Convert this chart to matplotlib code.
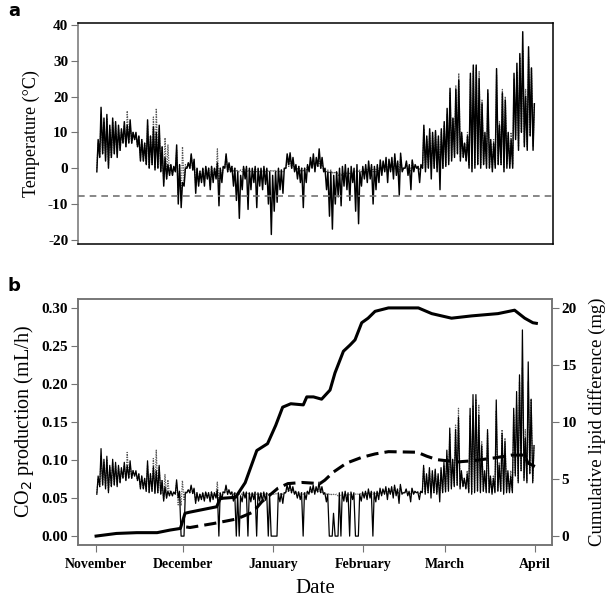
import numpy as np
import matplotlib
matplotlib.use("Agg")
import matplotlib.pyplot as plt

plt.rcParams['font.family'] = ['Liberation Serif', 'DejaVu Serif']
plt.rcParams['axes.unicode_minus'] = False

# days counted from 1 November; one low and one high per day
month_days = [0, 30, 61, 92, 120, 151]
month_names = ['November', 'December', 'January', 'February', 'March', 'April']

# temperature (C), solid trace
temp_hi = [8, 17, 14, 15, 12, 14, 13, 12, 11, 13, 12, 13.5, 10, 10, 9, 8, 7, 13.5, 9, 11.5, 10, 12, 6, 3, 1, 1, 0.5, 6.5, 1, -4,
           0, 1.5, 4, 2.5, 0, -1, 0, 0.5, 0, 0.5, 0, 1.5, 0, 0.5, 4, 1.5, 0.5, 0, -1, -2, 0.5, 0.5, 0, 0, 0.5, 0, 0, 0.5, 0, -1, -2,
           -1, 0, -0.5, 0, 4, 4.3, 3, 1, 0.5, 0, 0, 1, 3, 4, 3, 5.4, 3, 0, -1, -1, -2, -1, 0, 0.5, 1, 0, 0.5, 0, 1, -1, 0.5,
           1, 2, 1, 0.5, 1, 2.3, 2, 3, 2.5, 3, 4, 2, 4.2, 0, 2, 1, 2.3, 1, 0.5, 1, 12, 9, 11, 10, 10.5, 9, 11, 13,
           16.7, 22.3, 14, 22, 24.6, 10, 7, 9, 26.5, 28.8, 28.8, 25, 18, 10, 21.9, 8, 7, 27.8, 12, 21, 19, 10, 8, 26.5, 29.3, 32, 38.1, 20, 33.9, 28, 18]
temp_lo = [-1, 3, 4, 2, 0, 3, 4, 3, 5, 7, 6, 7, 7, 8, 6, 2, 2, 1, 0, 1, -0.5, 0, -1, -5, -3, -2, -2, -1, -10, -11,
           -5, 0, 0, -0.5, -7, -5, -4, -5, -3, -6, -4, -3, -10.5, -4, 0, -1, -1, -5, -9, -14, -6, -3, -11.5, -6, -4, -11, -5, -6, -4.5, -10, -18.5,
           -12, -9.5, -6, -7, 0, 1, 0, -1, -3, -4, -11, -4, -1, 0, -1, 0.5, 0, -1, -6, -13.4, -17, -10, -8, -10.5, -5, -6, -9, -4, -12, -15.5, -5,
           -3, -4, -3, -10, -6, -4, -2, -1, -4, -1, -3, -2, -7.5, -1, 0, -2, -6, -1, 0, -4, 0, -1, 0, -3, 0, -1, -6, 0,
           0.5, 1, 2, 3, 4, 2, 3, 2, 0, -1, 0, 1, 0, 1, 0, 0, -1, 0, 1, 1, -1, 0, 0, 0, 8, 5, 10, 6, 5, 9, 5]

# temperature (C), dotted trace
tdot_hi = [7, 15, 13, 14, 11, 13, 12, 11, 10, 12, 16, 12, 10, 9, 9, 8, 7, 12, 9, 14.3, 16.7, 11, 6, 8.5, 6.5, 1, 0.5, 5, 1, 6,
           1, 1.5, 3.5, 2, 0, -0.5, 0, 0.5, 0, 0.5, 0, 5.4, 0, 0.5, 3.5, 1, 0.5, 0, -0.5, -0.5, 0, 0, -0.5, -0.5, 0, -0.5, -0.5, 0, -0.5, -0.5, -0.5,
           -0.5, -0.5, -0.5, -0.5, 2, 3, 2, 0.5, 0.5, 0, 0, 0.5, 1, 1.5, 1.5, 2, 1, 0, -0.5, -0.5, -1, -1, -1.5, -1.5, -1, -1, -1, -1, -0.5, -0.5, -0.5,
           0, 0.5, 0.5, 0, 0.5, 1, 1.5, 2, 2, 2, 3, 1.5, 3, 0, 1.5, 0.5, 2, 0.5, 0.5, 0.5, 11, 8, 10, 9, 10, 8, 10, 12,
           15, 21, 14, 23, 26.5, 9, 7, 10, 25, 27, 28, 27, 19, 9, 21, 7, 8, 26, 13, 22, 20, 9, 10, 25, 27, 31, 33, 22, 31, 28, 18]
tdot_lo = [0, 3, 4, 3, 1, 3, 4, 4, 5, 7, 6, 7, 7, 8, 6, 3, 2, 1, 0, 1, 0, 0, -1, -4, -3, -2, -2, -1, -8, -9,
           -4, 0, 0, -0.5, -5, -4, -3, -4, -3, -5, -3, -2, -6, -3, 0, -1, -1, -1, -1, -1, -1, -1, -1, -1, -1, -1, -1, -1, -1, -1, -1,
           -1, -1, -1, -1, 0, 0.5, 0, -0.5, -0.5, -1, -1, -0.5, 0, 0, 0, 0.5, 0, -0.5, -1, -1.5, -1.5, -1.5, -2, -2, -1.5, -1.5, -1.5, -1.5, -1, -1, -1,
           -1, -1, -1, -1, -1, -1, -1, -0.5, -1, -0.5, -1, -0.5, -1, -0.5, 0, -0.5, -1, -0.5, 0, -0.5, 0, 0, 0, 0, 0, 0, 0, 0,
           1, 2, 3, 4, 4, 3, 3, 2, 1, 0, 1, 1, 1, 1, 1, 0, 0, 1, 1, 1, 0, 1, 1, 1, 9, 6, 10, 7, 6, 9, 6]

# CO2 production (mL/h), solid trace
co2_hi = [0.079, 0.115, 0.101, 0.105, 0.093, 0.101, 0.097, 0.093, 0.090, 0.097, 0.093, 0.099, 0.086, 0.086, 0.082, 0.079, 0.076, 0.099, 0.082, 0.091, 0.086, 0.093, 0.073, 0.065, 0.059, 0.059, 0.058, 0.074, 0.059, 0,
          0.057, 0.061, 0.067, 0.063, 0.057, 0.055, 0.057, 0.058, 0.057, 0.058, 0.057, 0.061, 0.057, 0.058, 0.067, 0.061, 0.058, 0.057, 0.055, 0.053, 0.058, 0.058, 0.057, 0.057, 0.058, 0.057, 0.057, 0.058, 0.057, 0.055, 0,
          0, 0.057, 0.056, 0.057, 0.067, 0.068, 0.065, 0.059, 0.058, 0.057, 0.057, 0.059, 0.065, 0.067, 0.065, 0.071, 0.065, 0.057, 0.055, 0, 0.03, 0, 0.057, 0.058, 0.059, 0.057, 0.058, 0.057, 0, 0.055, 0.058,
          0.059, 0.062, 0.059, 0.058, 0.059, 0.063, 0.062, 0.065, 0.063, 0.065, 0.067, 0.062, 0.068, 0.057, 0.062, 0.059, 0.063, 0.059, 0.058, 0.059, 0.093, 0.082, 0.090, 0.086, 0.088, 0.082, 0.090, 0.097,
          0.113, 0.142, 0.101, 0.140, 0.156, 0.086, 0.076, 0.082, 0.168, 0.186, 0.186, 0.159, 0.119, 0.086, 0.140, 0.079, 0.076, 0.179, 0.093, 0.135, 0.124, 0.086, 0.079, 0.168, 0.190, 0.212, 0.271, 0.129, 0.229, 0.180, 0.119]
co2_lo = [0.055, 0.065, 0.067, 0.062, 0.057, 0.065, 0.067, 0.065, 0.070, 0.076, 0.073, 0.076, 0.076, 0.079, 0.073, 0.062, 0.062, 0.059, 0.057, 0.059, 0.056, 0.057, 0.055, 0.046, 0.050, 0.053, 0.053, 0.055, 0.050, 0,
          0, 0.057, 0.057, 0.056, 0.043, 0.046, 0.048, 0.046, 0.050, 0.045, 0.048, 0.050, 0, 0.048, 0.057, 0.055, 0.055, 0.046, 0, 0, 0.045, 0.050, 0, 0.045, 0.048, 0, 0.046, 0.045, 0.047, 0, 0,
          0, 0, 0.045, 0.043, 0.057, 0.059, 0.057, 0.055, 0.050, 0.048, 0, 0.048, 0.055, 0.057, 0.055, 0.058, 0.057, 0.055, 0.045, 0, 0, 0, 0, 0, 0.046, 0.045, 0, 0.048, 0, 0, 0.046,
          0.050, 0.048, 0.050, 0, 0.045, 0.048, 0.053, 0.055, 0.048, 0.055, 0.050, 0.053, 0.043, 0.055, 0.057, 0.053, 0.045, 0.055, 0.057, 0.048, 0.057, 0.055, 0.057, 0.050, 0.057, 0.055, 0.045, 0.057,
          0.058, 0.059, 0.062, 0.065, 0.067, 0.062, 0.065, 0.062, 0.057, 0.055, 0.057, 0.059, 0.057, 0.059, 0.057, 0.057, 0.055, 0.057, 0.059, 0.059, 0.055, 0.057, 0.057, 0.057, 0.079, 0.070, 0.086, 0.073, 0.070, 0.082, 0.070]

# CO2 production (mL/h), dotted trace
cdot_hi = [0.076, 0.105, 0.097, 0.101, 0.090, 0.097, 0.093, 0.090, 0.086, 0.093, 0.110, 0.093, 0.086, 0.082, 0.082, 0.079, 0.076, 0.093, 0.082, 0.102, 0.113, 0.090, 0.073, 0.081, 0.074, 0.059, 0.058, 0.070, 0.059, 0.073,
           0.059, 0.061, 0.066, 0.062, 0.057, 0.056, 0.057, 0.058, 0.057, 0.058, 0.057, 0.071, 0.057, 0.058, 0.066, 0.059, 0.058, 0.057, 0.056, 0.056, 0.057, 0.057, 0.056, 0.056, 0.057, 0.056, 0.056, 0.057, 0.056, 0.056, 0.056,
           0.056, 0.056, 0.056, 0.056, 0.062, 0.065, 0.062, 0.058, 0.058, 0.057, 0.057, 0.058, 0.059, 0.061, 0.061, 0.062, 0.059, 0.057, 0.056, 0.056, 0.055, 0.055, 0.054, 0.054, 0.055, 0.055, 0.055, 0.055, 0.056, 0.056, 0.056,
           0.057, 0.058, 0.058, 0.057, 0.058, 0.059, 0.061, 0.062, 0.062, 0.062, 0.065, 0.061, 0.065, 0.057, 0.061, 0.058, 0.062, 0.058, 0.058, 0.058, 0.090, 0.079, 0.086, 0.082, 0.086, 0.079, 0.086, 0.093,
           0.105, 0.135, 0.101, 0.146, 0.168, 0.082, 0.076, 0.086, 0.159, 0.172, 0.180, 0.172, 0.124, 0.082, 0.135, 0.076, 0.079, 0.165, 0.097, 0.140, 0.129, 0.082, 0.086, 0.159, 0.172, 0.203, 0.221, 0.140, 0.203, 0.180, 0.119]
cdot_lo = [0.057, 0.065, 0.067, 0.065, 0.059, 0.065, 0.067, 0.067, 0.070, 0.076, 0.073, 0.076, 0.076, 0.079, 0.073, 0.065, 0.062, 0.059, 0.057, 0.059, 0.057, 0.057, 0.055, 0.048, 0.050, 0.053, 0.053, 0.055, 0.041, 0.040,
           0.048, 0.057, 0.057, 0.056, 0.046, 0.048, 0.050, 0.048, 0.050, 0.046, 0.050, 0.053, 0.045, 0.050, 0.057, 0.055, 0.055, 0.055, 0.055, 0.055, 0.055, 0.055, 0.055, 0.055, 0.055, 0.055, 0.055, 0.055, 0.055, 0.055, 0.055,
           0.055, 0.055, 0.055, 0.055, 0.057, 0.058, 0.057, 0.056, 0.056, 0.055, 0.055, 0.056, 0.057, 0.057, 0.057, 0.058, 0.057, 0.056, 0.055, 0.054, 0.054, 0.054, 0.053, 0.053, 0.054, 0.054, 0.054, 0.054, 0.055, 0.055, 0.055,
           0.055, 0.055, 0.055, 0.055, 0.055, 0.055, 0.055, 0.056, 0.055, 0.056, 0.055, 0.056, 0.055, 0.056, 0.057, 0.056, 0.055, 0.056, 0.057, 0.056, 0.057, 0.057, 0.057, 0.057, 0.057, 0.057, 0.057, 0.057,
           0.059, 0.062, 0.065, 0.067, 0.067, 0.065, 0.065, 0.062, 0.059, 0.057, 0.059, 0.059, 0.059, 0.059, 0.059, 0.057, 0.057, 0.059, 0.059, 0.059, 0.057, 0.059, 0.059, 0.059, 0.082, 0.073, 0.086, 0.076, 0.073, 0.082, 0.073]

# cumulative lipid difference (mg)
lipid_days = [0, 7, 14, 21, 25.5, 29, 30.6, 32.3, 41.5, 42.7, 48, 51.3, 55.3, 59, 61.8, 64.2, 67, 71.3, 72.5, 74.8, 77.6,
              80.5, 82.2, 85.1, 87.4, 89.1, 91.4, 93.6, 96, 100.6, 110.9, 115.5, 122.3, 129.2, 138.3, 144, 147.5, 150.3, 151.5]
lipid_vals = [0, 0.23, 0.3, 0.3, 0.53, 0.67, 2.0, 2.1, 2.57, 3.3, 3.4, 4.68, 7.5, 8.1, 9.7, 11.3, 11.6, 11.5, 12.2, 12.2, 12.0,
              12.8, 14.3, 16.2, 16.75, 17.2, 18.7, 19.1, 19.7, 20.0, 20.0, 19.5, 19.1, 19.3, 19.5, 19.8, 19.1, 18.7, 18.65]
dash_days = [31, 32.3, 40.4, 48.4, 54, 57, 62.6, 66, 70.9, 77, 78.7, 81.6, 86.2, 91.4, 96, 100.6, 110.5, 113.8, 117.3,
             124.3, 129.5, 137, 143, 147.5, 148.6, 151]
dash_vals = [0.8, 0.75, 1.1, 1.5, 2.1, 3.0, 4.2, 4.6, 4.7, 4.6, 4.9, 5.6, 6.4, 6.9, 7.2, 7.4, 7.35, 7.0, 6.7,
             6.5, 6.6, 6.85, 7.1, 7.1, 6.4, 6.1]

supercooling = -7.8


def zigzag(lo, hi):
    d = np.arange(len(lo))
    x = np.column_stack([d + 0.25, d + 0.7]).ravel()
    y = np.column_stack([lo, hi]).ravel()
    return x, y


fig = plt.figure(figsize=(6.1, 5.99), dpi=100)

# panel a
ax1 = fig.add_axes([0.128, 0.593, 0.779, 0.369])
ax1.plot(*zigzag(tdot_lo, tdot_hi), color='0.35', lw=0.9, ls=(0, (1, 1)))
ax1.plot(*zigzag(temp_lo, temp_hi), color='black', lw=1.05)
ax1.axhline(supercooling, color='0.45', lw=1.2, ls=(0, (4, 3)))
ax1.set_xlim(-6.2, 157.2)
ax1.set_ylim(-21.1, 40.6)
ax1.set_xticks([])
ax1.set_yticks(range(-20, 41, 10))
ax1.tick_params(axis='y', direction='out', length=5, color='0.45', labelsize=11, pad=2)
ax1.set_ylabel('Temperature (°C)', fontsize=13, labelpad=6)
for s in ax1.spines.values():
    s.set_linewidth(1.1)
ax1.spines['left'].set_color('0.45')

# panel b
ax2 = fig.add_axes([0.128, 0.090, 0.777, 0.411])
ax3 = ax2.twinx()
ax2.plot(*zigzag(cdot_lo, cdot_hi), color='0.35', lw=0.9, ls=(0, (1, 1)))
ax2.plot(*zigzag(co2_lo, co2_hi), color='black', lw=0.9)
ax3.plot(lipid_days, lipid_vals, color='black', lw=2.2)
ax3.plot(dash_days, dash_vals, color='black', lw=2.2, ls=(0, (4, 2)))
ax2.set_xlim(-6.2, 156.9)
ax2.set_ylim(-0.0118, 0.3118)
ax3.set_ylim(-0.79, 20.79)
ax2.set_yticks([0, 0.05, 0.10, 0.15, 0.20, 0.25, 0.30])
ax2.set_yticklabels(['0.00', '0.05', '0.10', '0.15', '0.20', '0.25', '0.30'])
ax3.set_yticks(range(0, 21, 5))
ax2.set_xticks(month_days)
ax2.set_xticklabels(month_names)
ax2.tick_params(axis='both', direction='out', length=5, color='0.45', labelsize=11, pad=2)
ax2.tick_params(axis='x', labelsize=10, pad=4)
ax3.tick_params(axis='y', direction='out', length=5, color='0.45', labelsize=11, pad=2)
for ax in (ax2, ax3):
    for s in ax.spines.values():
        s.set_color('0.45')
        s.set_linewidth(1.1)
ax2.set_ylabel('CO$_2$ production (mL/h)', fontsize=14.5, labelpad=4)
ax3.set_ylabel('Cumulative lipid difference (mg)', fontsize=13.5, labelpad=8)
ax2.set_xlabel('Date', fontsize=15, labelpad=6)

for ax in (ax1, ax2, ax3):
    for lab in ax.get_xticklabels() + ax.get_yticklabels():
        lab.set_fontweight('bold')

fig.text(0.013, 0.982, 'a', fontsize=13, fontweight='bold', family='DejaVu Sans', va='center')
fig.text(0.013, 0.522, 'b', fontsize=13, fontweight='bold', family='DejaVu Sans', va='center')

fig.savefig('out.png', dpi=100)
